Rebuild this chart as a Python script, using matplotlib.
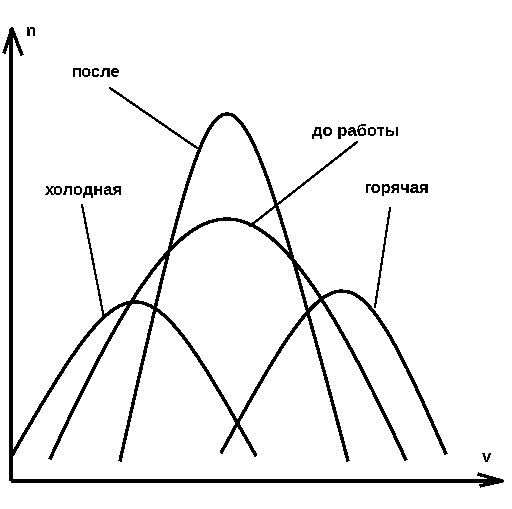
import matplotlib
matplotlib.use("Agg")
import matplotlib.pyplot as plt
from matplotlib.path import Path
from matplotlib.patches import PathPatch

plt.rcParams['font.family'] = ['Liberation Sans', 'DejaVu Sans']
plt.rcParams['text.antialiased'] = False

# Curves (pixel-space coordinates)
names = ["холодная", "до работы", "после", "горячая"]
x_start = [11, 50, 120, 221]
y_start = [457, 459, 461, 453]
x_end = [256, 406, 348, 446]
y_end = [456, 460, 461, 454]
x_peak = [135, 227, 227, 342]
y_peak = [302, 219, 114, 291]
spread = [6, 30, 0, 6]

# Label text positions and leader lines
label_x = [84, 355, 96, 397]
label_y = [191, 131, 72, 189]
lead_x0 = [82, 357, 110, 390]
lead_y0 = [205, 142, 88, 208]
lead_x1 = [104, 250, 197, 375]
lead_y1 = [318, 226, 148, 307]

W, H = 512, 509
fig = plt.figure(figsize=(W / 100, H / 100), dpi=100)
ax = fig.add_axes([0, 0, 1, 1])
ax.set_xlim(0, W)
ax.set_ylim(H, 0)
ax.axis('off')

# Axes with open arrowheads
axis_kw = dict(color='black', lw=1.6, antialiased=False, solid_capstyle='butt')
ax.plot([11, 11], [481, 29], **axis_kw)
ax.plot([11, 502], [481, 481], **axis_kw)
ax.plot([4, 12, 22], [53, 29, 55], **axis_kw)
ax.plot([478, 502, 480], [474, 481, 486], **axis_kw)
ax.text(31, 31, "n", fontsize=12, fontweight='bold', ha='center', va='center')
ax.text(487, 458, "v", fontsize=12, fontweight='bold', ha='center', va='center')

for i in range(len(names)):
    xc = (8 * x_peak[i] - x_start[i] - x_end[i]) / 6
    yc = (8 * y_peak[i] - y_start[i] - y_end[i]) / 6
    verts = [(x_start[i], y_start[i]), (xc - spread[i], yc), (xc + spread[i], yc),
             (x_end[i], y_end[i])]
    codes = [Path.MOVETO, Path.CURVE4, Path.CURVE4, Path.CURVE4]
    ax.add_patch(PathPatch(Path(verts, codes), fill=False, lw=1.6,
                           edgecolor='black', antialiased=False))
    ax.plot([lead_x0[i], lead_x1[i]], [lead_y0[i], lead_y1[i]], color='black',
            lw=0.75, antialiased=False)
    ax.text(label_x[i], label_y[i], names[i], fontsize=12, fontweight='bold',
            ha='center', va='center')

fig.savefig("out.png", dpi=100)
